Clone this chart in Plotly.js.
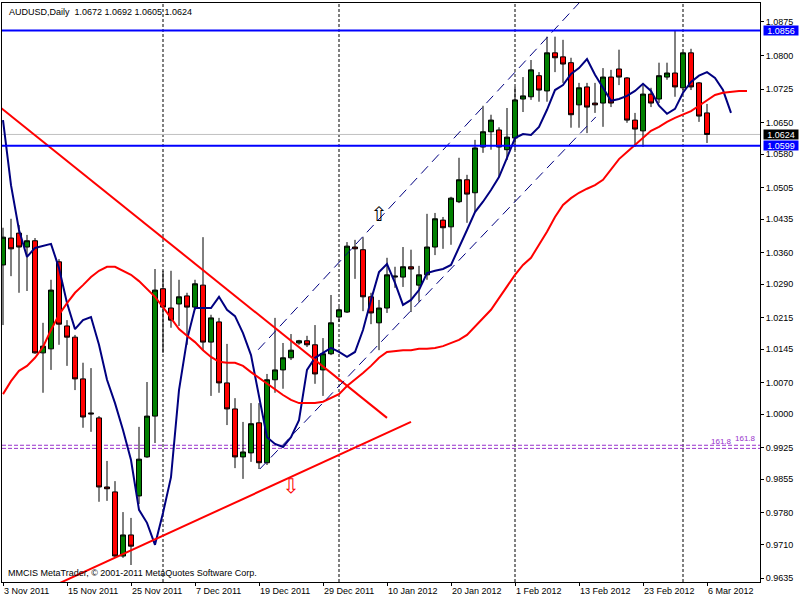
<!DOCTYPE html>
<html><head><meta charset="utf-8">
<script src="https://cdn.plot.ly/plotly-3.0.1.min.js"></script>
<style>html,body{margin:0;padding:0;background:#fff}#chart{width:800px;height:600px}</style>
</head><body><div id="chart"></div>
<script>
const symbol = "AUDUSD";
const period = "Daily";

// x tick labels (every 8th bar)
const tickIdx = [0, 8, 16, 24, 32, 40, 48, 56, 64, 72, 80, 88];
const tickText = ["3 Nov 2011", "15 Nov 2011", "25 Nov 2011", "7 Dec 2011", "19 Dec 2011", "29 Dec 2011",
  "10 Jan 2012", "20 Jan 2012", "1 Feb 2012", "13 Feb 2012", "23 Feb 2012", "6 Mar 2012"];

// month separators (bar index of first bar of month)
const monthIdx = [20, 42, 64, 85];

// price scale ticks
const yTicks = [1.0875, 1.0800, 1.0725, 1.0650, 1.0580, 1.0505, 1.0435, 1.0360, 1.0290, 1.0215,
  1.0145, 1.0070, 1.0000, 0.9925, 0.9855, 0.9780, 0.9710, 0.9635];

// daily OHLC, 3 Nov 2011 .. 6 Mar 2012
const open = [1.0333,1.0393,1.0404,1.0373,1.0387,1.0137,1.0146,1.0340,1.0197,1.0172,
1.0079,1.0003,0.9992,0.9838,0.9827,0.9684,0.9731,0.9818,0.9905,0.9996,
1.0280,1.0237,1.0246,1.0264,1.0239,1.0288,1.0161,1.0206,1.0070,1.0012,
0.9905,0.9914,0.9981,0.9892,1.0077,1.0099,1.0126,1.0159,1.0164,1.0155,
1.0099,1.0135,1.0217,1.0228,1.0373,1.0367,1.0262,1.0204,1.0237,1.0306,
1.0306,1.0329,1.0288,1.0311,1.0373,1.0433,1.0418,1.0474,1.0523,1.0494,
1.0596,1.0630,1.0634,1.0590,1.0616,1.0703,1.0708,1.0755,1.0721,1.0806,
1.0797,1.0784,1.0690,1.0730,1.0694,1.0694,1.0752,1.0770,1.0750,1.0656,
1.0632,1.0714,1.0703,1.0752,1.0761,1.0728,1.0806,1.0739,1.0672];
const high = [1.0416,1.0436,1.0422,1.0400,1.0393,1.0204,1.0300,1.0346,1.0210,1.0177,
1.0115,1.0103,0.9996,0.9896,0.9851,0.9782,0.9769,0.9972,1.0072,1.0324,
1.0320,1.0320,1.0300,1.0271,1.0300,1.0395,1.0222,1.0215,1.0157,1.0036,
0.9983,1.0025,1.0025,1.0090,1.0215,1.0159,1.0179,1.0166,1.0175,1.0199,
1.0170,1.0266,1.0239,1.0384,1.0389,1.0395,1.0271,1.0255,1.0349,1.0329,
1.0373,1.0367,1.0331,1.0447,1.0449,1.0440,1.0485,1.0572,1.0534,1.0612,
1.0688,1.0668,1.0640,1.0683,1.0730,1.0752,1.0790,1.0763,1.0842,1.0842,
1.0835,1.0795,1.0739,1.0739,1.0739,1.0772,1.0768,1.0813,1.0752,1.0672,
1.0734,1.0728,1.0784,1.0784,1.0856,1.0808,1.0815,1.0741,1.0692];
const low = [1.0199,1.0308,1.0271,1.0275,1.0135,1.0048,1.0099,1.0155,1.0108,1.0054,
0.9970,0.9961,0.9805,0.9807,0.9680,0.9680,0.9664,0.9800,0.9903,0.9936,
1.0137,1.0193,1.0197,1.0155,1.0233,1.0143,1.0041,1.0048,0.9976,0.9880,
0.9856,0.9894,0.9878,0.9887,1.0048,1.0057,1.0121,1.0155,1.0150,1.0068,
1.0041,1.0132,1.0206,1.0226,1.0302,1.0230,1.0201,1.0143,1.0226,1.0282,
1.0284,1.0228,1.0251,1.0300,1.0355,1.0369,1.0378,1.0471,1.0427,1.0451,
1.0583,1.0590,1.0529,1.0567,1.0590,1.0674,1.0701,1.0697,1.0697,1.0763,
1.0739,1.0639,1.0639,1.0627,1.0672,1.0641,1.0685,1.0734,1.0650,1.0596,
1.0596,1.0685,1.0694,1.0746,1.0708,1.0723,1.0723,1.0652,1.0605];
const close = [1.0395,1.0369,1.0373,1.0387,1.0137,1.0152,1.0277,1.0201,1.0172,1.0079,
0.9994,1.0001,0.9838,0.9834,0.9684,0.9731,0.9706,0.9900,0.9996,1.0277,
1.0239,1.0210,1.0262,1.0239,1.0291,1.0161,1.0215,1.0070,1.0012,0.9905,
0.9916,0.9979,0.9892,1.0077,1.0099,1.0126,1.0143,1.0164,1.0155,1.0090,
1.0135,1.0204,1.0233,1.0375,1.0369,1.0262,1.0226,1.0237,1.0311,1.0308,
1.0329,1.0324,1.0311,1.0373,1.0436,1.0416,1.0482,1.0523,1.0491,1.0594,
1.0630,1.0656,1.0596,1.0618,1.0701,1.0710,1.0768,1.0723,1.0806,1.0795,
1.0781,1.0668,1.0728,1.0685,1.0690,1.0752,1.0694,1.0752,1.0656,1.0636,
1.0714,1.0694,1.0755,1.0761,1.0730,1.0806,1.0730,1.0665,1.0624];

// moving averages (shifted forward past the last bar)
const maFast = [1.0656,1.0511,1.0411,1.0351,1.0371,1.0375,1.0380,1.0326,1.0248,1.0190,
1.0210,1.0217,1.0155,1.0077,1.0025,0.9965,0.9898,0.9787,0.9758,0.9709,
0.9780,0.9860,1.0054,1.0166,1.0237,1.0237,1.0237,1.0262,1.0233,1.0219,
1.0181,1.0132,1.0043,0.9949,0.9934,0.9927,0.9949,0.9987,1.0099,1.0126,
1.0137,1.0148,1.0139,1.0128,1.0139,1.0188,1.0255,1.0317,1.0335,1.0293,
1.0244,1.0255,1.0277,1.0315,1.0320,1.0324,1.0333,1.0371,1.0411,1.0451,
1.0474,1.0500,1.0529,1.0572,1.0616,1.0625,1.0623,1.0641,1.0679,1.0723,
1.0734,1.0759,1.0772,1.0792,1.0757,1.0728,1.0699,1.0703,1.0710,1.0721,
1.0737,1.0721,1.0688,1.0670,1.0681,1.0717,1.0741,1.0755,1.0763,1.0750,
1.0723,1.0672];
const maSlow = [1.0045,1.0074,1.0097,1.0108,1.0126,1.0150,1.0188,1.0222,1.0248,1.0271,
1.0288,1.0306,1.0320,1.0329,1.0329,1.0320,1.0311,1.0297,1.0280,1.0262,
1.0239,1.0215,1.0190,1.0175,1.0161,1.0143,1.0128,1.0117,1.0115,1.0115,
1.0108,1.0094,1.0081,1.0070,1.0057,1.0043,1.0032,1.0025,1.0025,1.0025,
1.0028,1.0036,1.0045,1.0063,1.0077,1.0092,1.0108,1.0126,1.0139,1.0141,
1.0143,1.0143,1.0146,1.0146,1.0148,1.0152,1.0159,1.0166,1.0177,1.0195,
1.0213,1.0233,1.0259,1.0284,1.0311,1.0333,1.0349,1.0378,1.0407,1.0440,
1.0467,1.0482,1.0494,1.0503,1.0511,1.0523,1.0545,1.0569,1.0585,1.0601,
1.0616,1.0632,1.0641,1.0652,1.0661,1.0668,1.0676,1.0688,1.0701,1.0712,
1.0717,1.0719,1.0721,1.0721];

// drawn objects (bar index, price)
const hLevels = [1.0856, 1.0599];
const fiboLevels = [0.9931, 0.9924];
const fiboText = ["161.8", "161.8"];
const trendDownX = [-1, 48], trendDownY = [1.0694, 0.9992];
const trendUpX = [7, 51], trendUpY = [0.9623, 0.9983];
const chanUpX = [31.9, 72], chanUpY = [1.0144, 1.0917];
const chanLoX = [32.1, 74.1], chanLoY = [0.9878, 1.0663];
const arrowUp = {x: [47], y: [1.0443]};
const arrowDown = {x: [36], y: [0.9836]};

const FONT = "Liberation Sans, Arial, sans-serif";
const fmt = v => v.toFixed(4);
const last = close.length - 1;
const idx = open.map((_, i) => i);
const fastX = maFast.map((_, i) => i);
const slowX = maSlow.map((_, i) => i);

const traces = [
  {type: 'candlestick', x: idx, open: open, high: high, low: low, close: close,
   increasing: {line: {color: '#000000', width: 1}, fillcolor: '#008000'},
   decreasing: {line: {color: '#000000', width: 1}, fillcolor: '#ff0000'},
   whiskerwidth: 0, hoverinfo: 'skip'},
  {type: 'scatter', mode: 'lines', x: fastX, y: maFast, line: {color: '#000080', width: 2}, hoverinfo: 'skip'},
  {type: 'scatter', mode: 'lines', x: slowX, y: maSlow, line: {color: '#ff0000', width: 2}, hoverinfo: 'skip'},
  {type: 'scatter', mode: 'lines', x: trendDownX, y: trendDownY, line: {color: '#ff0000', width: 2}, hoverinfo: 'skip'},
  {type: 'scatter', mode: 'lines', x: trendUpX, y: trendUpY, line: {color: '#ff0000', width: 2}, hoverinfo: 'skip'},
  {type: 'scatter', mode: 'lines', x: chanUpX, y: chanUpY, line: {color: '#000080', width: 1, dash: '10px,6px'}, hoverinfo: 'skip'},
  {type: 'scatter', mode: 'lines', x: chanLoX, y: chanLoY, line: {color: '#000080', width: 1, dash: '10px,6px'}, hoverinfo: 'skip'},
  {type: 'scatter', mode: 'text', x: arrowUp.x, y: arrowUp.y, text: ['\u21E7'], textposition: 'middle center',
   textfont: {family: 'DejaVu Sans', size: 20, color: '#000000'}, hoverinfo: 'skip', cliponaxis: false},
  {type: 'scatter', mode: 'text', x: arrowDown.x, y: arrowDown.y, text: ['\u21E9'], textposition: 'middle center',
   textfont: {family: 'DejaVu Sans', size: 20, color: '#ff0000'}, hoverinfo: 'skip', cliponaxis: false}
];

const shapes = [];
monthIdx.forEach(m => shapes.push({type: 'line', xref: 'x', yref: 'paper', x0: m, x1: m, y0: 0, y1: 1,
  line: {color: '#000000', width: 1, dash: '3px,2px'}, layer: 'below'}));
shapes.push({type: 'line', xref: 'paper', yref: 'y', x0: 0, x1: 1, y0: close[last], y1: close[last],
  line: {color: '#c0c0c0', width: 1}, layer: 'below'});
fiboLevels.forEach(l => shapes.push({type: 'line', xref: 'paper', yref: 'y', x0: 0, x1: 1, y0: l, y1: l,
  line: {color: '#9933cc', width: 1, dash: '4px,2px'}, layer: 'below'}));
hLevels.forEach(l => shapes.push({type: 'line', xref: 'paper', yref: 'y', x0: 0, x1: 1, y0: l, y1: l,
  line: {color: '#0000ff', width: 2}, layer: 'above'}));

const annotations = [
  {xref: 'paper', yref: 'paper', x: 0, y: 1, xanchor: 'left', yanchor: 'top', xshift: 5, yshift: -2, showarrow: false,
   text: symbol + ',' + period + '\u00a0\u00a0' + [open[last], high[last], low[last], close[last]].map(fmt).join(' '),
   font: {family: FONT, size: 9, color: '#000000'}},
  {xref: 'paper', yref: 'paper', x: 0, y: 0, xanchor: 'left', yanchor: 'bottom', xshift: 4, yshift: 2, showarrow: false,
   text: 'MMCIS MetaTrader, \u00a9 2001-2011 MetaQuotes Software Corp.',
   font: {family: FONT, size: 9, color: '#000000'}}
];
const boxes = [[hLevels[0], '#0000ff'], [close[last], '#000000'], [hLevels[1], '#0000ff']];
boxes.forEach(b => annotations.push({xref: 'paper', yref: 'y', x: 1, y: b[0], xanchor: 'left', yanchor: 'middle',
  xshift: 3, showarrow: false, text: fmt(b[0]), bgcolor: b[1], borderpad: 0, width: 34, height: 9,
  font: {family: FONT, size: 9, color: '#ffffff'}}));
fiboLevels.forEach((l, i) => annotations.push({xref: 'paper', yref: 'y', x: 1, y: l, xanchor: 'right', yanchor: 'bottom',
  xshift: -2 - 24 * i, yshift: 0, showarrow: false, text: fiboText[i], font: {family: FONT, size: 8, color: '#9933cc'}}));

const layout = {
  width: 800, height: 600,
  margin: {l: 2, r: 40, t: 3, b: 18, pad: 0},
  paper_bgcolor: '#ffffff', plot_bgcolor: '#ffffff',
  showlegend: false,
  boxgap: 0.35, boxgroupgap: 0.04,
  xaxis: {range: [-0.125, 94.625], showgrid: false, zeroline: false, showline: true, mirror: true,
    linecolor: '#000000', linewidth: 1, tickvals: tickIdx, ticktext: tickText, ticks: 'outside', ticklen: 3,
    tickcolor: '#000000', ticklabelposition: 'outside right', tickfont: {family: FONT, size: 9, color: '#000000'},
    rangeslider: {visible: false}, fixedrange: true, automargin: false},
  yaxis: {range: [0.96261, 1.09171], side: 'right', showgrid: false, zeroline: false, showline: true, mirror: true,
    linecolor: '#000000', linewidth: 1, tickvals: yTicks, ticktext: yTicks.map(fmt), ticks: 'outside', ticklen: 3,
    tickcolor: '#000000', tickfont: {family: FONT, size: 9, color: '#000000'}, fixedrange: true, automargin: false},
  shapes: shapes,
  annotations: annotations
};

Plotly.newPlot('chart', traces, layout, {staticPlot: true, displayModeBar: false});
</script>
</body></html>
